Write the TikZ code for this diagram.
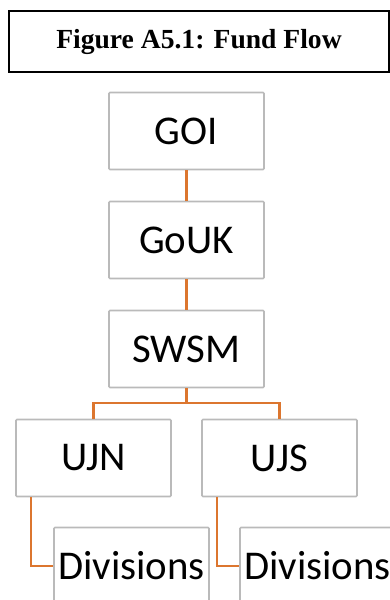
\documentclass[tikz,border=0pt]{standalone}
\usepackage{fontspec}
\setmainfont{Liberation Serif}
\newfontfamily\boxfont{Carlito}
\usepackage{tikz}
\usetikzlibrary{positioning}
\definecolor{flowline}{HTML}{DC762F}
\definecolor{boxgray}{HTML}{BABABA}

\begin{document}
\begin{tikzpicture}[node distance=109bp,on grid,auto]
        \tikzstyle{fund_node}=[rounded corners=1bp,draw=boxgray,line width=1.7bp,fill=white,minimum width=155bp,minimum height=77bp,font={\boxfont\fontsize{41}{44}\selectfont},inner sep=0pt]
        \tikzstyle{title_node}=[draw=black,line width=1.8bp,minimum width=380bp,minimum height=61bp,font={\bfseries\fontsize{27.7}{30}\selectfont}]
        \useasboundingbox (-186.5bp,131bp) rectangle (203.5bp,-469bp);
        \clip (-186.5bp,131bp) rectangle (203.5bp,-469bp);
        \node[fund_node]  (goi)                 {GOI};
        \node[title_node] (title) [above of =goi,node distance=89.5bp,xshift=12.5bp] {Figure A5.1: Fund Flow};
        \node[fund_node]  (gouk) [below of =goi]                {GoUK};
    \node[fund_node]  (swsm) [below of =gouk]               {SWSM};
    
    \node[fund_node]  (ujn) [below of =swsm,xshift=-93bp]               {UJN};
    \node[fund_node]  (ujs) [below of =swsm,xshift=93bp]               {UJS};
    
    \node[fund_node]  (div_n) [below of =ujn,node distance=108bp,xshift=38bp]               {Divisions};
    \node[fund_node]  (div_s) [below of =ujs,node distance=108bp,xshift=38bp]               {Divisions};
    
    \path[-,draw=flowline,line width=2.2bp]
    (goi) edge                node {}  (gouk) 
     (gouk) edge               node {}  (swsm);
    \draw[flowline,line width=2.2bp] (swsm.south) -- ++(0,-15bp) coordinate (split) -| (ujn.north);
    \draw[flowline,line width=2.2bp] (split) -| (ujs.north);
    \draw[flowline,line width=2.2bp] ([xshift=16bp]ujn.south west) |- (div_n.west);
    \draw[flowline,line width=2.2bp] ([xshift=16bp]ujs.south west) |- (div_s.west);
    
    \end{tikzpicture}
\end{document}
